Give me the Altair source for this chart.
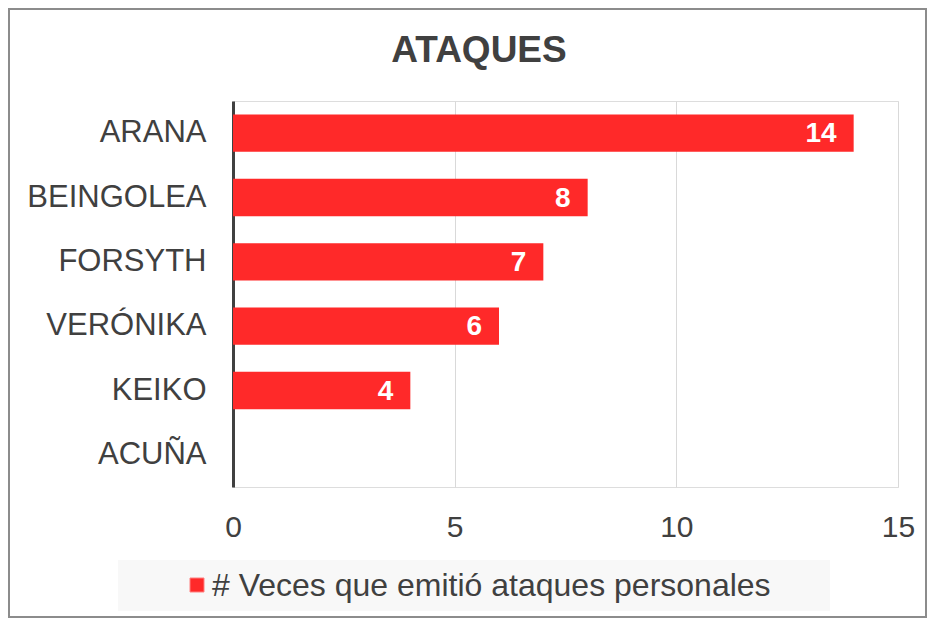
import altair as alt
import pandas as pd

categories = ["ARANA", "BEINGOLEA", "FORSYTH", "VERÓNIKA", "KEIKO", "ACUÑA"]
values = [14, 8, 7, 6, 4, 0]
series_name = "# Veces que emitió ataques personales"
title_text = "ATAQUES"
x_ticks = [0, 5, 10, 15]

df = pd.DataFrame({"candidato": categories, "veces": values})
FONT = "Liberation Sans"
RED = "#FF2929"
TXT = "#404040"

W, H = 665, 386

y_enc = alt.Y("candidato:N", sort=categories,
              scale=alt.Scale(paddingInner=0.42, paddingOuter=0.21),
              axis=alt.Axis(title=None, labelFont=FONT, labelFontSize=31, labelColor=TXT,
                            labelPadding=27, labelLimit=400, ticks=False, domainColor=TXT,
                            domainWidth=3, grid=False))
x_enc = alt.X("veces:Q", scale=alt.Scale(domain=[0, 15], nice=False),
              axis=alt.Axis(title=None, values=x_ticks, labelFont=FONT, labelFontSize=30,
                            labelColor=TXT, labelPadding=25, labelFlush=False, ticks=False,
                            domain=False, grid=True, gridColor="#D9D9D9", gridWidth=1))

bars = alt.Chart(df).mark_bar(color=RED).encode(x=x_enc, y=y_enc)

labels = alt.Chart(df).transform_filter("datum.veces > 0").mark_text(
    align="right", baseline="middle", dx=-17, dy=1, font=FONT, fontSize=28,
    fontWeight="bold", color="white"
).encode(x="veces:Q", y=alt.Y("candidato:N", sort=categories), text="veces:Q")

title_df = pd.DataFrame({"t": [title_text]})
title = alt.Chart(title_df).mark_text(
    align="center", baseline="alphabetic", font=FONT, fontSize=37, fontWeight="bold", color=TXT
).encode(x=alt.value(246), y=alt.value(-39), text="t:N")

# manual legend (box, swatch, label)
leg_df = pd.DataFrame({"serie": [series_name]})
leg_box = alt.Chart(leg_df).mark_rect(color="#F8F8F8").encode(
    x=alt.value(-115), x2=alt.value(597), y=alt.value(459), y2=alt.value(510)
)
leg_sw = alt.Chart(leg_df).mark_rect(color=RED, stroke="#FF8080", strokeWidth=1).encode(
    x=alt.value(-43), x2=alt.value(-29), y=alt.value(477), y2=alt.value(491)
)
leg_txt = alt.Chart(leg_df).mark_text(
    align="left", baseline="middle", font=FONT, fontSize=32, color=TXT
).encode(x=alt.value(-21), y=alt.value(485), text="serie:N")

border = alt.Chart(leg_df).mark_rect(fill=None, stroke="#8C8C8C", strokeWidth=2).encode(
    x=alt.value(-224), x2=alt.value(693), y=alt.value(-92), y2=alt.value(516)
)

chart = alt.layer(leg_box, leg_sw, leg_txt, bars, labels, title, border).properties(
    width=W, height=H,
    autosize=alt.AutoSizeParams(type="none"),
    padding={"left": 225, "top": 93, "right": 29, "bottom": 131},
).configure_view(stroke=None).configure(background="white")

chart.save("out.html", embed_options={"renderer": "svg", "actions": False})
